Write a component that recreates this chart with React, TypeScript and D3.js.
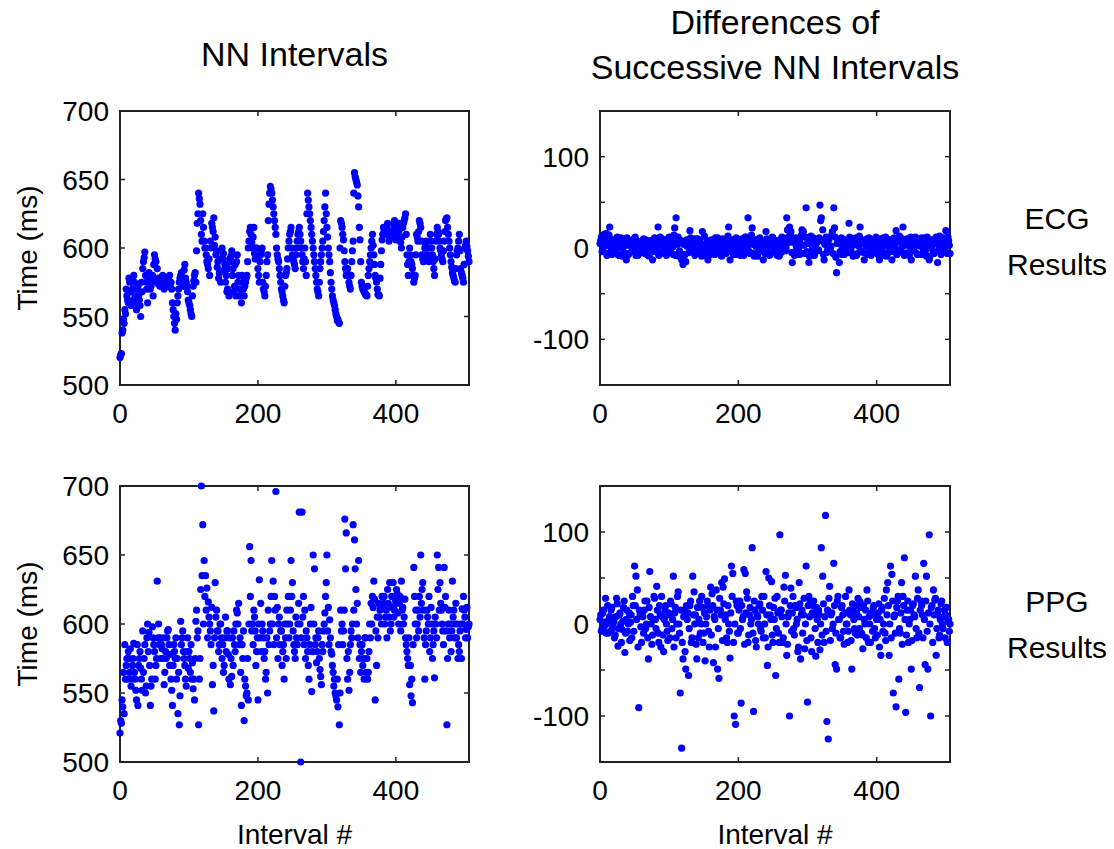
import React from "react";
import * as d3 from "d3";

// Interval numbers 0..506
const intervalIndex: number[] = d3.range(0, 507);

// ECG NN intervals (ms) at even interval numbers 0,2,...,506
const ecgNNEven: number[] = [
  520, 523, 540, 545, 552, 565, 560, 575, 558, 570,
  580, 565, 555, 572, 562, 550, 568, 590, 597, 575,
  560, 582, 570, 575, 565, 595, 590, 585, 578, 572,
  575, 580, 570, 578, 575, 572, 580, 575, 560, 550,
  540, 548, 565, 575, 580, 578, 572, 588, 575, 568,
  560, 555, 550, 572, 580, 575, 618, 640, 632, 610,
  625, 605, 600, 590, 585, 580, 600, 615, 622, 608,
  598, 590, 582, 575, 600, 596, 588, 580, 570, 565,
  590, 598, 585, 572, 565, 595, 580, 570, 560, 575,
  565, 575, 580, 600, 612, 610, 600, 615, 592, 600,
  585, 575, 595, 600, 570, 565, 580, 595, 632, 645,
  640, 630, 620, 610, 595, 590, 580, 570, 565, 560,
  580, 585, 600, 610, 615, 595, 590, 585, 600, 610,
  615, 605, 595, 585, 600, 580, 640, 630, 620, 610,
  600, 590, 580, 570, 565, 585, 595, 605, 620, 640,
  615, 600, 590, 575, 565, 560, 555, 550, 548, 545,
  620, 615, 606, 590, 580, 585, 575, 570, 590, 605,
  655, 650, 646, 630, 606, 575, 570, 568, 566, 565,
  580, 590, 600, 610, 595, 580, 575, 566, 565, 588,
  606, 615, 610, 612, 618, 605, 610, 608, 613, 620,
  606, 612, 618, 608, 600, 615, 620, 625, 595, 580,
  600, 590, 585, 575, 580, 610, 605, 620, 615, 595,
  590, 600, 605, 595, 590, 610, 600, 590, 580, 605,
  615, 610, 600, 595, 590, 605, 620, 622, 610, 600,
  590, 582, 578, 575, 595, 600, 610, 585, 580, 575,
  600, 605, 598, 590,
];
// ECG NN intervals (ms) at odd interval numbers 1,3,...,505
const ecgNNOdd: number[] = [
  522, 538, 548, 555, 570, 562, 578, 568, 575, 562,
  575, 560, 570, 565, 558, 575, 585, 593, 580, 570,
  575, 578, 572, 580, 588, 592, 576, 574, 576, 578,
  578, 574, 576, 573, 577, 576, 574, 570, 555, 545,
  552, 560, 570, 578, 582, 576, 584, 578, 572, 562,
  558, 552, 565, 576, 582, 598, 625, 636, 620, 605,
  615, 600, 595, 588, 592, 605, 618, 612, 602, 595,
  586, 578, 592, 598, 592, 584, 575, 568, 585, 592,
  594, 580, 568, 588, 590, 575, 565, 570, 580, 570,
  572, 578, 590, 605, 615, 604, 608, 596, 600, 594,
  580, 590, 598, 575, 568, 572, 590, 620, 640, 643,
  635, 625, 615, 600, 592, 585, 575, 568, 562, 572,
  582, 592, 605, 612, 600, 592, 588, 595, 605, 612,
  610, 600, 590, 592, 590, 625, 635, 625, 615, 605,
  595, 585, 575, 568, 575, 590, 600, 612, 630, 625,
  608, 595, 582, 570, 562, 558, 552, 547, 546, 600,
  618, 610, 598, 585, 582, 580, 572, 580, 598, 640,
  652, 648, 638, 615, 590, 572, 569, 567, 566, 572,
  585, 595, 605, 602, 588, 578, 570, 566, 578, 598,
  610, 613, 611, 615, 612, 608, 609, 611, 617, 612,
  609, 615, 613, 604, 608, 618, 622, 610, 588, 590,
  595, 588, 580, 578, 595, 608, 612, 618, 605, 592,
  595, 602, 600, 592, 600, 605, 595, 585, 592, 610,
  612, 605, 598, 592, 598, 612, 621, 615, 605, 595,
  586, 580, 576, 585, 598, 605, 598, 582, 578, 588,
  602, 601, 594,
];

// ECG differences of successive NN intervals (ms), even / odd interval numbers
const ecgDiffEven: number[] = [
  5, 12, -3, 15, 8, -8, 10, 23, 0, -5,
  6, -2, 9, -7, 4, 11, -9, 2, 7, -13,
  3, -6, 8, 1, -4, 10, -8, 5, 0, -3,
  7, -5, 2, 9, -7, 4, -2, 6, -13, 1,
  8, -4, 23, 3, -6, 10, -1, 5, -8, 2,
  12, -3, 6, -7, 22, 33, 4, -9, 7, -13,
  -18, 5, -15, 2, 8, 19, -4, 6, -2, 10,
  -6, 3, 9, -5, 18, 1, -8, 4, -13, 6,
  2, -4, 8, -7, 5, 11, -2, 3, -9, 7,
  1, -6, 10, 23, -13, 4, -3, 8, -7, 2,
  6, -5, 9, 0, -8, 12, 3, 33, -4, 7,
  22, -6, 5, 1, -9, 10, -3, 6, -13, 2,
  18, -4, 8, -7, 3, 11, -2, 5, -8, 1,
  9, -5, 4, 7, -3, 33, 12, 23, 18, -16,
  6, -4, 2, 8, -7, 3, 20, 18, -6, 44,
  5, -16, 9, -3, 11, -8, 4, 7, -2, 47,
  33, 20, -13, 6, -5, 10, -3, 2, 18, 44,
  12, -27, 8, -16, 4, -7, 9, 1, -4, 6,
  27, -3, 7, -9, 5, 11, -6, 2, 23, -4,
  8, -13, 3, 10, -5, 6, -8, 2, 9, -3,
  5, -7, -13, 8, -2, 11, 4, -9, 6, 1,
  -4, -13, 7, 3, 19, -6, 9, -2, 5, 23,
  -8, 4, 10, -5, 2, -13, 7, -3, 12, -6,
  3, 9, -7, 5, -2, 11, -9, 4, -13, 6,
  1, -5, 8, 12, -16, 3, 10, -4, 7, 2,
  19, -6, 8, -6,
];
const ecgDiffOdd: number[] = [
  8, -4, 10, 2, 16, -6, 14, 3, -7, 9,
  -3, 5, 12, -8, 7, 0, 10, -5, 4, 11,
  -7, 6, 2, 9, -4, 12, 0, -8, 7, 3,
  -2, 10, -6, 5, 1, -9, 8, 3, -4, 11,
  0, 6, -8, 12, 4, -3, 9, -6, 2, 7,
  -5, 10, 1, 14, -8, 6, 12, -3, 8, -9,
  4, -7, 9, 2, -5, 11, 0, 7, -8, 5,
  10, -3, 6, -9, 2, 13, -5, 8, 1, -7,
  9, 4, -6, 11, -2, 6, 0, -8, 10, 3,
  -5, 7, 13, -4, 2, 9, -7, 5, 11, -2,
  3, -8, 10, 6, -4, 12, 0, 8, -6, 14,
  4, -9, 9, 2, -5, 11, -1, 7, 3, -6,
  10, 1, -8, 6, 12, -4, 8, -2, 5, -9,
  7, 12, -3, 9, 0, 20, 6, 15, -5, 10,
  -8, 11, 4, -2, 9, 14, -6, 3, 12, -4,
  8, -9, 13, 2, -5, 10, 6, -3, 11, 30,
  8, -7, 4, 12, -2, 9, 0, 14, -6, 22,
  -10, 5, 8, -4, 11, 2, -7, 9, 3, -5,
  12, 0, -6, 10, 4, -8, 7, 13, -3, 6,
  -5, 9, 2, -7, 11, 5, -3, 8, 0, 12,
  -6, 4, 10, -2, 7, -8, 12, 3, -5, 9,
  6, -3, 11, 0, -7, 8, 13, -4, 10, 2,
  -6, 9, 5, -8, 12, 1, -3, 10, 6, -7,
  8, 2, 11, -5, 6, -2, 12, 0, -9, 9,
  4, -6, 10, 7, -3, 13, -7, 5, 11, -2,
  8, 12, 3,
];

// PPG NN intervals (ms), even / odd interval numbers
const ppgNNEven: number[] = [
  521, 528, 540, 535, 560, 575, 580, 565, 555, 570,
  586, 560, 545, 541, 575, 568, 552, 565, 585, 555,
  600, 594, 541, 560, 590, 580, 570, 631, 600, 590,
  585, 575, 556, 580, 590, 596, 570, 560, 541, 585,
  575, 560, 535, 527, 602, 590, 580, 570, 555, 590,
  580, 565, 560, 553, 545, 602, 590, 527, 575, 700,
  672, 646, 635, 626, 616, 600, 585, 556, 537, 630,
  610, 595, 585, 600, 575, 565, 590, 580, 595, 560,
  556, 562, 570, 585, 600, 608, 615, 590, 541, 575,
  530, 555, 550, 545, 656, 646, 600, 610, 595, 580,
  545, 632, 615, 600, 590, 580, 565, 550, 585, 600,
  646, 631, 620, 696, 612, 600, 585, 595, 580, 560,
  590, 610, 620, 600, 646, 630, 585, 575, 590, 600,
  681, 500, 681, 620, 610, 595, 580, 560, 600, 551,
  650, 640, 590, 580, 595, 567, 556, 580, 600, 620,
  650, 612, 603, 580, 570, 555, 550, 545, 540, 527,
  610, 600, 595, 676, 666, 560, 552, 585, 590, 672,
  661, 625, 615, 646, 585, 580, 570, 560, 590, 575,
  565, 600, 615, 620, 631, 545, 570, 590, 605, 612,
  620, 615, 600, 610, 625, 605, 595, 620, 630, 610,
  615, 622, 600, 620, 631, 612, 605, 590, 580, 570,
  556, 548, 543, 641, 600, 590, 610, 620, 650, 625,
  610, 560, 595, 605, 620, 590, 600, 585, 561, 600,
  650, 641, 630, 610, 595, 641, 620, 527, 600, 590,
  580, 631, 610, 600, 590, 575, 580, 600, 611, 620,
  605, 596, 590, 600,
];
const ppgNNOdd: number[] = [
  530, 545, 565, 585, 570, 560, 575, 582, 560, 575,
  565, 552, 585, 570, 580, 560, 595, 575, 550, 590,
  580, 570, 555, 598, 585, 560, 575, 590, 585, 575,
  582, 590, 565, 575, 595, 585, 578, 552, 570, 580,
  590, 575, 565, 548, 585, 595, 575, 560, 580, 568,
  575, 585, 572, 560, 575, 610, 595, 560, 625, 635,
  600, 620, 610, 590, 605, 595, 612, 570, 590, 605,
  595, 580, 600, 590, 585, 570, 605, 595, 578, 590,
  575, 590, 595, 580, 610, 600, 585, 565, 585, 595,
  560, 548, 575, 600, 620, 595, 585, 605, 570, 590,
  600, 590, 580, 595, 575, 560, 590, 610, 595, 620,
  600, 585, 610, 590, 575, 605, 595, 570, 585, 600,
  575, 600, 590, 610, 620, 595, 580, 605, 585, 615,
  600, 590, 605, 585, 575, 590, 570, 585, 612, 580,
  600, 585, 572, 590, 575, 562, 585, 595, 608, 630,
  595, 585, 590, 578, 565, 560, 548, 560, 585, 550,
  595, 585, 610, 640, 575, 580, 565, 595, 600, 610,
  640, 600, 590, 575, 565, 585, 575, 590, 565, 560,
  580, 590, 600, 612, 618, 595, 605, 615, 610, 600,
  612, 620, 605, 590, 615, 630, 600, 612, 605, 618,
  625, 608, 615, 595, 610, 600, 618, 585, 575, 590,
  570, 560, 585, 620, 610, 600, 595, 605, 615, 630,
  590, 585, 610, 600, 580, 612, 575, 595, 605, 590,
  625, 610, 615, 600, 585, 612, 595, 575, 610, 600,
  595, 605, 590, 615, 600, 585, 595, 575, 600, 610,
  590, 612, 598,
];

// PPG differences of successive NN intervals (ms), even / odd interval numbers
const ppgDiffEven: number[] = [
  5, -8, 12, -3, 28, 0, -10, 8, 15, -5,
  3, -12, 28, -24, 10, 0, -6, 18, -31, 5,
  -8, 12, 2, -15, 20, 63, 52, 37, -91, 10,
  -20, 8, 15, -5, 25, -38, 57, 0, -12, 30,
  5, 41, -10, 20, -25, 8, -30, 15, 0, -18,
  10, 25, -5, 52, 12, -15, 30, 0, -75, -135,
  -38, 15, -49, 5, -56, 20, -20, 52, 35, 10,
  -38, -15, 25, 0, 18, -10, -40, 8, 20, -25,
  40, 33, -42, 5, 37, -49, -59, 15, 45, 40,
  49, 10, -20, 0, -37, 63, 55, -100, -109, 20,
  -10, 25, -86, 5, 59, 55, 35, -20, 10, 0,
  83, -95, 15, -25, 8, 20, -5, 30, -15, 0,
  57, -45, 50, 10, 46, -20, 5, -56, 30, -10,
  97, 15, -20, 40, 53, -34, 8, -100, 39, 12,
  -5, 20, 0, -30, 45, -38, 15, 10, -27, 63,
  -85, 30, 25, -30, 20, 10, -35, 5, 15, -28,
  83, 52, -20, 118, -106, -125, 41, 10, -5, 66,
  -44, -49, 30, 5, -15, 20, -8, 12, 0, -20,
  37, 10, -49, 15, -5, 20, -12, 8, 24, -10,
  -27, 5, 15, 37, -20, 0, 10, -8, 20, -15,
  5, 12, -25, -34, 18, 0, -10, 37, 45, -34,
  63, 54, -75, 10, -90, 25, -60, -10, 45, 30,
  72, -96, 15, -20, 5, -49, 20, 10, 52, -15,
  37, -69, 25, 10, 66, -44, 52, -49, 97, -100,
  20, 37, 26, -34, 10, -15, 5, 25, -5, 15,
  10, -20, 5, 0,
];
const ppgDiffOdd: number[] = [
  10, -5, 15, 2, -10, 20, 5, -8, 18, 0,
  -15, 8, 22, -5, 12, -20, 3, 25, -10, 15,
  0, -18, 10, 30, -8, 20, 5, -25, 15, -3,
  12, -10, 25, 0, -15, 18, 8, -22, 5, 28,
  -5, 15, -20, 10, 30, -12, 5, 20, -8, 12,
  -15, 22, 5, -25, 18, 0, 35, -10, 15, -20,
  8, -30, 20, 12, -5, 25, -15, 10, 0, -22,
  18, 5, -10, 30, -20, 12, 0, 25, -8, 15,
  -12, 20, 8, -25, 15, -5, 28, 10, -18, 22,
  5, -15, 20, -8, 12, 30, -20, 0, 25, -10,
  15, -5, 20, 8, -22, 12, 28, -12, 18, 5,
  -10, 25, -18, 10, 0, 22, -8, 15, 30, -15,
  10, -25, 20, 5, -12, 18, 28, -5, 12, -20,
  15, 8, -15, 25, 0, -22, 12, 20, -8, 30,
  -12, 18, 5, -25, 22, 10, -10, 28, 0, -18,
  20, 8, -15, 12, 25, -5, 18, -20, 10, 0,
  -12, 22, 8, -8, 15, 28, -18, 12, 0, 20,
  -10, 25, 5, -15, 18, 10, -22, 30, 0, -8,
  15, -18, 22, 5, -10, 12, 28, -5, 18, -12,
  20, 0, -15, 25, 8, -20, 12, 18, -5, 10,
  -12, 22, 5, 15, -8, 28, -18, 10, 20, 0,
  -15, 25, 8, -10, 18, 30, -5, 12, -22, 20,
  5, -12, 25, 0, 15, -18, 22, 8, -5, 28,
  -10, 15, 20, -15, 5, 25, -8, 12, 0, 18,
  -20, 10, 28, -5, 15, -12, 22, 0, 8, -15,
  18, 5, -8,
];

const xTicks = [0, 200, 400];
const nnTicks = [500, 550, 600, 650, 700];
const nnTickLabels = ["500", "550", "600", "650", "700"];
const diffTicks = [-100, -50, 0, 50, 100];
const diffTickLabels = ["-100", "", "0", "", "100"];

const columnTitles = ["NN Intervals", "Differences of", "Successive NN Intervals"];
const rowLabels = [["ECG", "Results"], ["PPG", "Results"]];
const yAxisLabel = "Time (ms)";
const xAxisLabel = "Interval #";

const FONT = "'Liberation Sans', Arial, Helvetica, sans-serif";

// put even- and odd-numbered intervals back into interval order
function interleave(even: number[], odd: number[]): number[] {
  const out: number[] = [];
  for (let k = 0; k < even.length; k++) {
    out.push(even[k]);
    if (k < odd.length) out.push(odd[k]);
  }
  return out;
}

type PanelProps = {
  x0: number;
  y0: number;
  w: number;
  h: number;
  yDomain: [number, number];
  yTicks: number[];
  yLabels: string[];
  values: number[];
};

function Panel({ x0, y0, w, h, yDomain, yTicks, yLabels, values }: PanelProps) {
  const x = d3.scaleLinear().domain([0, 506]).range([x0, x0 + w]);
  const y = d3.scaleLinear().domain(yDomain).range([y0 + h, y0]);
  const tl = 5;
  const innerY = yTicks.filter((t) => t > yDomain[0] && t < yDomain[1]);
  const innerX = xTicks.filter((t) => t > 0);
  return (
    <g>
      <rect x={x0} y={y0} width={w} height={h} fill="#fff" stroke="#222" strokeWidth={2} />
      {innerY.map((t) => (
        <g key={"yt" + t}>
          <line x1={x0} x2={x0 + tl} y1={y(t)} y2={y(t)} stroke="#222" strokeWidth={1.5} />
          <line x1={x0 + w} x2={x0 + w - tl} y1={y(t)} y2={y(t)} stroke="#222" strokeWidth={1.5} />
        </g>
      ))}
      {innerX.map((t) => (
        <g key={"xt" + t}>
          <line x1={x(t)} x2={x(t)} y1={y0 + h} y2={y0 + h - tl} stroke="#222" strokeWidth={1.5} />
          <line x1={x(t)} x2={x(t)} y1={y0} y2={y0 + tl} stroke="#222" strokeWidth={1.5} />
        </g>
      ))}
      {yTicks.map((t, i) =>
        yLabels[i] ? (
          <text
            key={"yl" + t}
            x={x0 - 11}
            y={y(t)}
            dy="0.36em"
            textAnchor="end"
            fontSize={28}
            fontFamily={FONT}
            fill="#000"
          >
            {yLabels[i]}
          </text>
        ) : null
      )}
      {xTicks.map((t) => (
        <text
          key={"xl" + t}
          x={x(t)}
          y={y0 + h + 38}
          textAnchor="middle"
          fontSize={28}
          fontFamily={FONT}
          fill="#000"
        >
          {t}
        </text>
      ))}
      {values.map((v, i) => (
        <circle key={i} cx={x(intervalIndex[i])} cy={y(v)} r={3.6} fill="#0000ff" />
      ))}
    </g>
  );
}

export default function App() {
  const leftX = 120;
  const rightX = 600;
  const wL = 349;
  const wR = 350;
  const topY = 111;
  const botY = 486;
  const hT = 274;
  const hB = 276;
  const ecgNN = interleave(ecgNNEven, ecgNNOdd);
  const ecgDiff = interleave(ecgDiffEven, ecgDiffOdd);
  const ppgNN = interleave(ppgNNEven, ppgNNOdd);
  const ppgDiff = interleave(ppgDiffEven, ppgDiffOdd);
  return (
    <div style={{ position: "absolute", left: 0, top: 0 }}>
      <svg width={1114} height={849} style={{ display: "block", background: "#fff" }}>
        <text x={leftX + wL / 2} y={66} textAnchor="middle" fontSize={34} fontFamily={FONT}>
          {columnTitles[0]}
        </text>
        <text x={rightX + wR / 2} y={34} textAnchor="middle" fontSize={34} fontFamily={FONT}>
          {columnTitles[1]}
        </text>
        <text x={rightX + wR / 2} y={79} textAnchor="middle" fontSize={34} fontFamily={FONT}>
          {columnTitles[2]}
        </text>

        <Panel x0={leftX} y0={topY} w={wL} h={hT} yDomain={[500, 700]} yTicks={nnTicks} yLabels={nnTickLabels} values={ecgNN} />
        <Panel x0={rightX} y0={topY} w={wR} h={hT} yDomain={[-150, 150]} yTicks={diffTicks} yLabels={diffTickLabels} values={ecgDiff} />
        <Panel x0={leftX} y0={botY} w={wL} h={hB} yDomain={[500, 700]} yTicks={nnTicks} yLabels={nnTickLabels} values={ppgNN} />
        <Panel x0={rightX} y0={botY} w={wR} h={hB} yDomain={[-150, 150]} yTicks={diffTicks} yLabels={diffTickLabels} values={ppgDiff} />

        <text transform={`translate(37,${topY + hT / 2}) rotate(-90)`} textAnchor="middle" fontSize={28} fontFamily={FONT}>
          {yAxisLabel}
        </text>
        <text transform={`translate(37,${botY + hB / 2}) rotate(-90)`} textAnchor="middle" fontSize={28} fontFamily={FONT}>
          {yAxisLabel}
        </text>

        <text x={leftX + wL / 2} y={844} textAnchor="middle" fontSize={28} fontFamily={FONT}>
          {xAxisLabel}
        </text>
        <text x={rightX + wR / 2} y={844} textAnchor="middle" fontSize={28} fontFamily={FONT}>
          {xAxisLabel}
        </text>

        {rowLabels.map((lines, r) => (
          <g key={r}>
            {lines.map((s, k) => (
              <text
                key={k}
                x={1057}
                y={(r === 0 ? 229 : 612) + k * 46}
                textAnchor="middle"
                fontSize={30}
                fontFamily={FONT}
              >
                {s}
              </text>
            ))}
          </g>
        ))}
      </svg>
    </div>
  );
}
